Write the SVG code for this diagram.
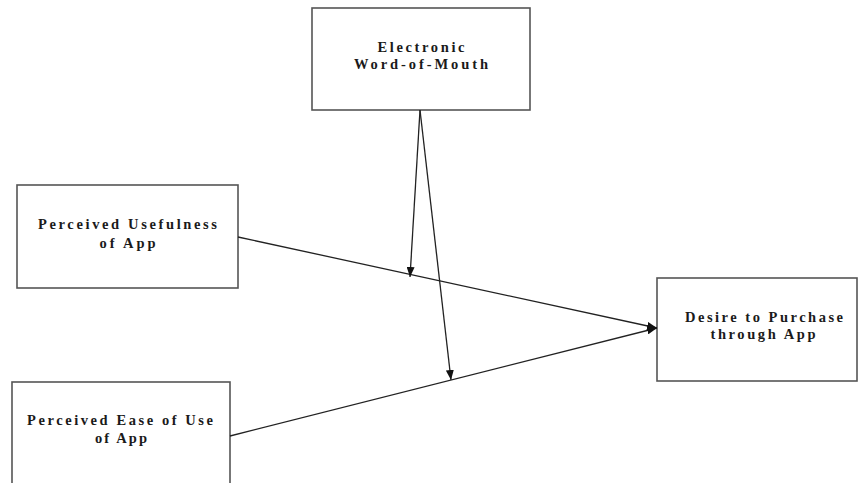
<svg xmlns="http://www.w3.org/2000/svg" width="858" height="483" viewBox="0 0 858 483">
  <style>
    .box { fill: #ffffff; stroke: #555555; stroke-width: 1.6; }
    .lbl { font-family: "Liberation Serif", "Times New Roman", serif; font-weight: bold; font-size: 14.5px; fill: #1a1a1a; text-anchor: middle; }
    .edge { stroke: #222222; stroke-width: 1.3; fill: none; marker-end: url(#arrow); }
  </style>
  <defs>
    <marker id="arrow" viewBox="0 0 10 8" refX="10" refY="4" markerWidth="10" markerHeight="8" markerUnits="userSpaceOnUse" orient="auto">
      <path d="M0,0 L10,4 L0,8 Z" fill="#111111"/>
    </marker>
  </defs>
  <rect x="0" y="0" width="858" height="483" fill="#ffffff"/>

  <g id="ewom">
    <rect class="box" x="312" y="8" width="218" height="102"/>
    <text class="lbl" x="421" y="52" textLength="87" lengthAdjust="spacing">Electronic</text>
    <text class="lbl" x="421" y="69" textLength="134" lengthAdjust="spacing">Word-of-Mouth</text>
  </g>

  <g id="pu">
    <rect class="box" x="17" y="185" width="221" height="103"/>
    <text class="lbl" x="127.5" y="229" textLength="179" lengthAdjust="spacing">Perceived Usefulness</text>
    <text class="lbl" x="127.5" y="248" textLength="56" lengthAdjust="spacing">of App</text>
  </g>

  <g id="peou">
    <rect class="box" x="12" y="382" width="218" height="110"/>
    <text class="lbl" x="120" y="425" textLength="186" lengthAdjust="spacing">Perceived Ease of Use</text>
    <text class="lbl" x="121" y="443" textLength="52" lengthAdjust="spacing">of App</text>
  </g>

  <g id="desire">
    <rect class="box" x="657" y="278" width="200" height="103"/>
    <text class="lbl" x="764" y="322" textLength="158" lengthAdjust="spacing">Desire to Purchase</text>
    <text class="lbl" x="763" y="339" textLength="105" lengthAdjust="spacing">through App</text>
  </g>

  <g id="connectors">
    <line class="edge" x1="238" y1="237" x2="657" y2="328"/>
    <line class="edge" x1="230" y1="436" x2="657" y2="328"/>
    <line class="edge" x1="420" y1="110" x2="410" y2="277"/>
    <line class="edge" x1="420" y1="110" x2="451" y2="380"/>
  </g>
</svg>
